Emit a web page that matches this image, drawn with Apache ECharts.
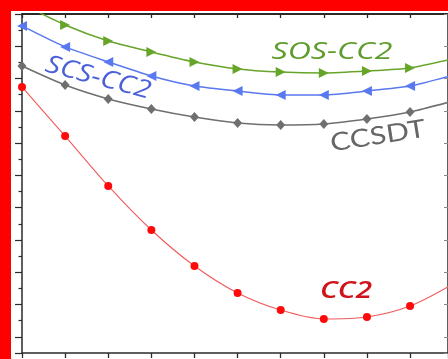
<!DOCTYPE html>
<html><head><meta charset="utf-8">
<script src="https://cdn.jsdelivr.net/npm/echarts@6/dist/echarts.min.js"></script>
<style>html,body{margin:0;padding:0;background:#fff}#c{width:448px;height:359px}</style>
</head><body><div id="c"></div>
<script>
// x positions (index) and series values (arbitrary units)
const xValues = [0, 1, 2, 3, 4, 5, 6, 7, 8, 9, 10];
const sosCC2 = [21.62, 20.32, 19.33, 18.65, 18.03, 17.60, 17.41, 17.35, 17.47, 17.66, 18.22];
const scsCC2 = [20.26, 18.96, 18.03, 17.16, 16.54, 16.23, 15.99, 15.99, 16.23, 16.54, 17.22];
const ccsdt  = [17.78, 16.60, 15.74, 15.12, 14.62, 14.25, 14.13, 14.19, 14.50, 14.93, 15.61];
const cc2    = [16.48, 13.44, 10.35, 7.62, 5.39, 3.72, 2.66, 2.11, 2.23, 2.91, 4.28];
const seriesNames = ['SOS-CC2', 'SCS-CC2', 'CCSDT', 'CC2'];

const pairs = arr => xValues.map((x, i) => [x, arr[i]]);

const cv = document.createElement('canvas').getContext('2d');
function fitScale(text, font, target) {
  cv.font = font;
  return target / cv.measureText(text).width;
}

const fSOS = 'italic 23px "Open Sans"';
const fSCS = 'italic 25px "Open Sans"';
const fCCSDT = '25px Lato';
const fCC2 = 'italic 600 24px "Open Sans"';

function label(text, font, color, x, y, rotDeg, width) {
  return {
    type: 'text', x: x, y: y, rotation: rotDeg * Math.PI / 180,
    scaleX: fitScale(text, font, width), z: 50,
    style: { text: text, font: font, fill: color, textAlign: 'center', textVerticalAlign: 'middle' }
  };
}

const axisColor = '#2a2a2a';
const chart = echarts.init(document.getElementById('c'), null, { renderer: 'canvas' });
chart.setOption({
  animation: false,
  backgroundColor: '#fff',
  grid: { left: 22, top: 14, right: -2, bottom: 6, containLabel: false },
  xAxis: [
    { type: 'value', min: 0, max: 9.88, interval: 1, position: 'bottom',
      axisLine: { show: true, onZero: false, lineStyle: { color: axisColor, width: 1.5 } },
      axisTick: { show: true, inside: false, length: 5, lineStyle: { color: axisColor, width: 1.3 } },
      axisLabel: { show: false }, splitLine: { show: false } },
    { type: 'value', min: 0, max: 9.88, interval: 1, position: 'top',
      axisLine: { show: true, onZero: false, lineStyle: { color: axisColor, width: 1.8 } },
      axisTick: { show: true, inside: true, length: 4, lineStyle: { color: axisColor, width: 1.3 } },
      axisLabel: { show: false }, splitLine: { show: false } }
  ],
  yAxis: [
    { type: 'value', min: 0, max: 21, position: 'left',
      axisLine: { show: true, onZero: false, lineStyle: { color: axisColor, width: 1.5 } },
      axisTick: { show: false }, axisLabel: { show: false }, splitLine: { show: false } },
    { type: 'value', min: 0, max: 21, interval: 2, inverse: true, position: 'left',
      axisLine: { show: false, onZero: false },
      axisTick: { show: true, inside: false, length: 7, lineStyle: { color: axisColor, width: 1.2 } },
      minorTick: { show: true, splitNumber: 2, length: 3.5, lineStyle: { color: axisColor, width: 1.2 } },
      axisLabel: { show: false }, splitLine: { show: false }, minorSplitLine: { show: false } },
    { type: 'value', min: 0, max: 21, interval: 2, inverse: true, position: 'right',
      axisLine: { show: true, onZero: false, lineStyle: { color: axisColor, width: 1.5 } },
      axisTick: { show: true, inside: true, length: 4, lineStyle: { color: '#888', width: 1 } },
      axisLabel: { show: false }, splitLine: { show: false } }
  ],
  series: [
    { name: seriesNames[0], type: 'line', xAxisIndex: 0, yAxisIndex: 0, data: pairs(sosCC2),
      smooth: 0.2, clip: true, symbol: 'triangle', symbolRotate: -90, symbolSize: 10,
      lineStyle: { color: '#67a52a', width: 1.5 }, itemStyle: { color: '#67a52a' } },
    { name: seriesNames[1], type: 'line', xAxisIndex: 0, yAxisIndex: 0, data: pairs(scsCC2),
      smooth: 0.2, clip: true, symbol: 'triangle', symbolRotate: 90, symbolSize: 10,
      lineStyle: { color: '#5a78f0', width: 1.5 }, itemStyle: { color: '#5a78f0' } },
    { name: seriesNames[2], type: 'line', xAxisIndex: 0, yAxisIndex: 0, data: pairs(ccsdt),
      smooth: 0.2, clip: true, symbol: 'diamond', symbolSize: [9, 10],
      lineStyle: { color: '#6f6f6f', width: 1.5 }, itemStyle: { color: '#6f6f6f' } },
    { name: seriesNames[3], type: 'line', xAxisIndex: 0, yAxisIndex: 0, data: pairs(cc2),
      smooth: 0.3, clip: true, symbol: 'circle', symbolSize: 8,
      lineStyle: { color: '#f05a5a', width: 1.1 }, itemStyle: { color: '#ff0a0a' } }
  ],
  graphic: [
    { type: 'rect', shape: { x: 0, y: 0, width: 448, height: 11 }, style: { fill: '#ff0000' }, z: 100 },
    { type: 'rect', shape: { x: 0, y: 0, width: 11, height: 359 }, style: { fill: '#ff0000' }, z: 100 },
    label(seriesNames[0], fSOS, '#5e9c2c', 332, 52, 0, 121),
    label(seriesNames[1], fSCS, '#4a60d8', 98, 78, -15, 108),
    label(seriesNames[2], fCCSDT, '#666666', 378, 136, 9, 96),
    label(seriesNames[3], fCC2, '#d0121a', 346, 291, 0, 52)
  ]
});
</script></body></html>
